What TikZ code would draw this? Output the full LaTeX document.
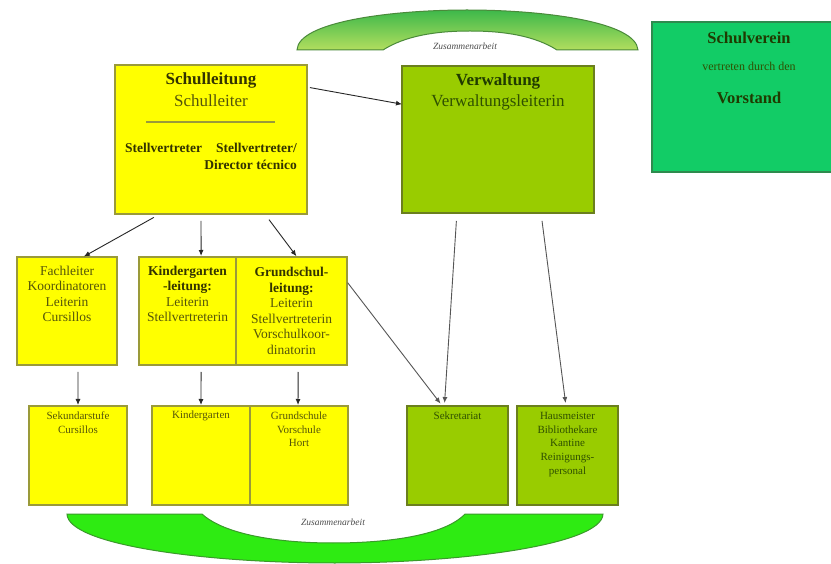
\documentclass[tikz,border=0pt]{standalone}
\usepackage{fontspec}
\setmainfont{Liberation Serif}
\usetikzlibrary{arrows.meta,calc}
\definecolor{yel}{HTML}{FFFF00}
\definecolor{yelbd}{HTML}{9A9A3A}
\definecolor{olv}{HTML}{99CC00}
\definecolor{olvbd}{HTML}{6B7F1E}
\definecolor{svg}{HTML}{12CC66}
\definecolor{svgbd}{HTML}{2E8B4E}
\definecolor{arctop}{HTML}{3DB84A}
\definecolor{arcbot}{HTML}{B2DE5E}
\definecolor{arcbd}{HTML}{4A8A3A}
\definecolor{barc}{HTML}{2EEB12}
\definecolor{barcbd}{HTML}{3A9A2A}
\definecolor{txty}{HTML}{333300}
\definecolor{txtyl}{HTML}{55550A}
\definecolor{txtg}{HTML}{1F3A00}
\definecolor{txtgl}{HTML}{2F5000}
\definecolor{linegrey}{HTML}{555555}
\begin{document}
\begin{tikzpicture}[x=1pt,y=-1pt,
  ybox/.style={draw=yelbd, fill=yel, line width=1.3pt, anchor=north west, inner sep=0pt, outer sep=0pt},
  gbox/.style={draw=olvbd, fill=olv, line width=1.3pt, anchor=north west, inner sep=0pt, outer sep=0pt},
  sbox/.style={draw=svgbd, fill=svg, line width=1.3pt, anchor=north west, inner sep=0pt, outer sep=0pt},
  big/.style={font=\fontsize{17}{19}\selectfont, inner sep=0pt},
  mid/.style={font=\fontsize{13.5}{15.5}\selectfont, align=center, inner sep=0pt, text=txtyl},
  low/.style={font=\fontsize{11}{13.6}\selectfont, align=center, inner sep=0pt},
  zus/.style={font=\fontsize{9.5}{11}\selectfont\itshape, inner sep=0pt, text=black!70},
  arr/.style={-{Latex[length=6pt,width=5pt]}, line width=0.9pt, black!85},
  garr/.style={-{Latex[length=6pt,width=5pt]}, line width=0.9pt, linegrey}
]
\clip (0,0) rectangle (831,564);
\fill[white] (0,0) rectangle (831,564);

% top arc
\path[draw=arcbd, line width=1pt, top color=arctop, bottom color=arcbot]
  (297,50) .. controls (298,22) and (390,10) .. (467,10)
  .. controls (545,10) and (636,22) .. (638,50)
  -- (557,50) .. controls (535,36) and (505,31) .. (470,31)
  .. controls (435,31) and (405,36) .. (383,50) -- cycle;
\node[zus] (zus1) at (465,46) {Zusammenarbeit};

% bottom arc
\path[draw=barcbd, line width=1pt, fill=barc]
  (67,514) -- (202,514) .. controls (225,535) and (280,543) .. (333,543)
  .. controls (390,543) and (445,535) .. (465,514) -- (603,514)
  .. controls (602,545) and (460,563) .. (335,563)
  .. controls (205,563) and (68,545) .. (67,514) -- cycle;
\node[zus] (zus2) at (333,522) {Zusammenarbeit};

% top row boxes
\node[ybox, minimum width=192pt, minimum height=149pt] (sl) at (115,65) {};
\node[gbox, minimum width=192pt, minimum height=147pt] (vw) at (402,66) {};
\node[sbox, minimum width=196pt, minimum height=150pt] (sv) at (652,22) {};

\node[big, font=\fontsize{17}{19}\selectfont\bfseries, text=txty] (slh) at (211,80) {Schulleitung};
\node[big, text=txtyl] (sls) at (211,101) {Schulleiter};
\draw[yelbd, line width=2pt] (146,122) -- (275,122);
\node[font=\fontsize{13.5}{17}\selectfont\bfseries, text=txty, align=right, inner sep=0pt, anchor=east] (slv) at (297,156.5)
  {Stellvertreter\hspace{14pt}Stellvertreter/\\Director técnico};

\node[big, font=\fontsize{17}{19}\selectfont\bfseries, text=txtg] (vwh) at (498,81) {Verwaltung};
\node[big, text=txtgl] (vws) at (498,102) {Verwaltungsleiterin};

\node[font=\fontsize{16.5}{19}\selectfont\bfseries, text=txtg, inner sep=0pt] (svh) at (749,38) {Schulverein};
\node[font=\fontsize{12}{14}\selectfont, text=txtgl, inner sep=0pt] (svs) at (749,66) {vertreten durch den};
\node[font=\fontsize{16.5}{19}\selectfont\bfseries, text=txtg, inner sep=0pt] (svv) at (749,98) {Vorstand};

% middle row
\node[ybox, minimum width=100pt, minimum height=108pt] (fach) at (17,257) {};
\node[ybox, minimum width=97pt, minimum height=108pt] (kg) at (139,257) {};
\node[ybox, minimum width=111pt, minimum height=108pt] (gs) at (236,257) {};
\node[mid] (facht) at (67,294) {Fachleiter\\Koordinatoren\\Leiterin\\Cursillos};
\node[mid] (kgt) at (187.5,294) {\textcolor{txty}{\bfseries Kindergarten}\\\textcolor{txty}{\bfseries -leitung:}\\Leiterin\\Stellvertreterin};
\node[mid] (gst) at (291.5,311) {\textcolor{txty}{\bfseries Grundschul-}\\\textcolor{txty}{\bfseries leitung:}\\Leiterin\\Stellvertreterin\\Vorschulkoor-\\dinatorin};

% bottom row
\node[ybox, minimum width=98pt, minimum height=99pt] (sekb) at (29,406) {};
\node[ybox, minimum width=98pt, minimum height=99pt] (kgb) at (152,406) {};
\node[ybox, minimum width=98pt, minimum height=99pt] (gsb) at (250,406) {};
\node[gbox, minimum width=101pt, minimum height=99pt] (sek) at (407,406) {};
\node[gbox, minimum width=101pt, minimum height=99pt] (haus) at (517,406) {};
\node[low, text=txtyl] (sekbt) at (78,422.5) {Sekundarstufe\\Cursillos};
\node[low, text=txtyl] (kgbt) at (201,416) {Kindergarten};
\node[low, text=txtyl] (gsbt) at (299,429.5) {Grundschule\\Vorschule\\Hort};
\node[low, text=txtgl] (sekt) at (457.5,416) {Sekretariat};
\node[low, text=txtgl] (haust) at (567.5,444.5) {Hausmeister\\Bibliothekare\\Kantine\\Reinigungs-\\personal};

% connectors
\draw[arr, shorten <=3pt] ($(sl.north east)!0.148!(sl.south east)$) -- ($(vw.north west)!0.26!(vw.south west)$);
\draw[arr, shorten <=7pt, shorten >=1pt] ($(sl.south west)!0.234!(sl.south east)$) -- ($(fach.north west)!0.66!(fach.north east)$);
\draw[arr, shorten <=7pt, shorten >=1pt] ($(sl.south west)!0.448!(sl.south east)$) -- ($(kg.north west)!0.64!(kg.north east)$);
\draw[arr, shorten <=7pt, shorten >=1pt] ($(sl.south west)!0.78!(sl.south east)$) -- ($(gs.north west)!0.55!(gs.north east)$);
\draw[garr, shorten <=1pt, shorten >=3pt] ($(gs.north east)!0.23!(gs.south east)$) -- ($(sek.north west)!0.35!(sek.north east)$);
\draw[garr, shorten <=8pt, shorten >=3pt] ($(vw.south west)!0.286!(vw.south east)$) -- ($(sek.north west)!0.37!(sek.north east)$);
\draw[garr, shorten <=8pt, shorten >=3pt] ($(vw.south west)!0.724!(vw.south east)$) -- ($(haus.north west)!0.485!(haus.north east)$);
\draw[arr, shorten <=7pt, shorten >=1pt] ($(fach.south west)!0.61!(fach.south east)$) -- ($(sekb.north west)!0.5!(sekb.north east)$);
\draw[arr, shorten <=7pt, shorten >=1pt] ($(kg.south west)!0.64!(kg.south east)$) -- ($(kgb.north west)!0.5!(kgb.north east)$);
\draw[arr, shorten <=7pt, shorten >=1pt] ($(gs.south west)!0.56!(gs.south east)$) -- ($(gsb.north west)!0.49!(gsb.north east)$);
\end{tikzpicture}
\end{document}
